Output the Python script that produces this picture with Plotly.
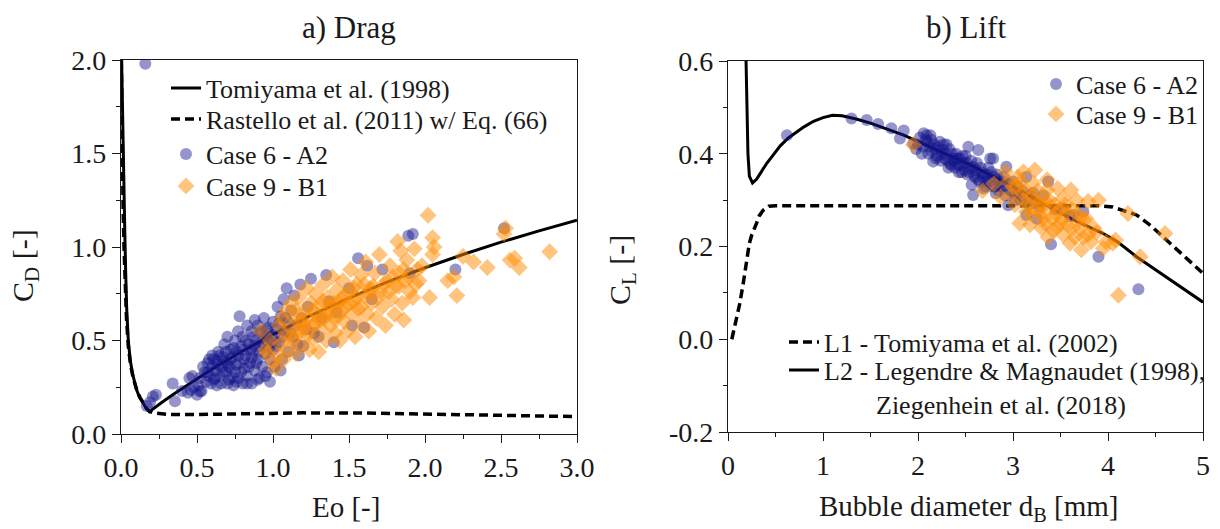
import plotly.graph_objects as go

W, H = 1220, 529
FONT = "Liberation Serif"
TXT = "#1a1a1a"


def fx(p):
    return p / W


def fy(p):
    return 1 - p / H


# ---------------- data: a) Drag ----------------
tomiyama_eo = [0.004, 0.008, 0.013, 0.019, 0.026, 0.031, 0.037, 0.048, 0.06, 0.075, 0.09, 0.103,
               0.12, 0.143, 0.165, 0.186, 0.22, 0.27, 0.35, 0.45, 0.6, 0.8, 1.0, 1.25, 1.5, 1.75,
               2.0, 2.25, 2.5, 2.75, 3.0]
tomiyama_cd = [2.0, 1.8, 1.5, 1.25, 1.04, 0.86, 0.68, 0.50, 0.40, 0.325, 0.27, 0.235,
               0.20, 0.164, 0.138, 0.119, 0.14, 0.17, 0.215, 0.27, 0.348, 0.444, 0.533, 0.635,
               0.727, 0.812, 0.889, 0.96, 1.026, 1.086, 1.143]

rastello_eo = [0.002, 0.005, 0.009, 0.014, 0.02, 0.026, 0.036, 0.048, 0.063, 0.08, 0.1, 0.125,
               0.15, 0.17, 0.19, 0.22, 0.3, 0.5, 0.8, 1.2, 1.6, 2.0, 2.5, 3.0]
rastello_cd = [2.0, 1.75, 1.45, 1.2, 1.0, 0.82, 0.62, 0.47, 0.37, 0.30, 0.245, 0.195,
               0.16, 0.135, 0.12, 0.112, 0.105, 0.104, 0.108, 0.113, 0.112, 0.108, 0.10, 0.093]

case6_drag = [
    (0.16, 1.98), (0.17, 0.15), (0.19, 0.17), (0.21, 0.20), (0.23, 0.21), (0.34, 0.27), (0.355, 0.175),
    (0.40, 0.23), (0.44, 0.22), (0.45, 0.30), (0.46, 0.235), (0.47, 0.31), (0.48, 0.25), (0.50, 0.21),
    (0.51, 0.26), (0.52, 0.227), (0.53, 0.23), (0.55, 0.33), (0.56, 0.28), (0.57, 0.38), (0.58, 0.40),
    (0.58, 0.31), (0.60, 0.36), (0.60, 0.42), (0.61, 0.29), (0.62, 0.34), (0.63, 0.39), (0.64, 0.44),
    (0.65, 0.31), (0.66, 0.36), (0.66, 0.27), (0.67, 0.41), (0.68, 0.48), (0.69, 0.33), (0.70, 0.38),
    (0.70, 0.52), (0.71, 0.29), (0.72, 0.45), (0.72, 0.35), (0.73, 0.41), (0.74, 0.26), (0.75, 0.50),
    (0.75, 0.33), (0.76, 0.44), (0.77, 0.55), (0.77, 0.30), (0.78, 0.38), (0.78, 0.63), (0.79, 0.47),
    (0.80, 0.27), (0.80, 0.52), (0.81, 0.35), (0.82, 0.42), (0.83, 0.58), (0.83, 0.31), (0.84, 0.48),
    (0.85, 0.38), (0.86, 0.55), (0.86, 0.27), (0.87, 0.44), (0.88, 0.61), (0.88, 0.34), (0.89, 0.50),
    (0.90, 0.40), (0.90, 0.58), (0.91, 0.30), (0.92, 0.47), (0.93, 0.54), (0.93, 0.36), (0.94, 0.62),
    (0.95, 0.43), (0.96, 0.50), (0.96, 0.33), (0.97, 0.57), (0.98, 0.40), (0.99, 0.52), (1.00, 0.60),
    (1.00, 0.45), (1.01, 0.36), (1.02, 0.56), (1.03, 0.68), (1.04, 0.49), (1.05, 0.63), (1.06, 0.40),
    (1.07, 0.72), (1.08, 0.55), (1.09, 0.78), (1.10, 0.60), (1.10, 0.44), (1.12, 0.66), (1.13, 0.52),
    (1.14, 0.74), (1.15, 0.58), (1.16, 0.48), (1.17, 0.42), (1.18, 0.80), (1.19, 0.62), (1.20, 0.47),
    (1.22, 0.56), (1.23, 0.68), (1.25, 0.83), (1.27, 0.54), (1.30, 0.52), (1.32, 0.62), (1.35, 0.85),
    (1.37, 0.71), (1.40, 0.49), (1.42, 0.65), (1.50, 0.78), (1.52, 0.58), (1.56, 0.94), (1.60, 0.57),
    (1.62, 0.90), (1.65, 0.72), (1.72, 0.88), (1.89, 1.06), (1.92, 1.07), (1.90, 0.86), (2.20, 0.88),
    (2.52, 1.10),
    (0.52, 0.30), (0.54, 0.36), (0.57, 0.33), (0.59, 0.27), (0.61, 0.40), (0.62, 0.30), (0.64, 0.37),
    (0.65, 0.42), (0.67, 0.33), (0.68, 0.39), (0.69, 0.44), (0.71, 0.36), (0.72, 0.40), (0.73, 0.30),
    (0.74, 0.46), (0.76, 0.37), (0.77, 0.42), (0.79, 0.33), (0.80, 0.45), (0.81, 0.40), (0.82, 0.50),
    (0.84, 0.36), (0.85, 0.45), (0.86, 0.41), (0.87, 0.52), (0.88, 0.47), (0.89, 0.38), (0.91, 0.44),
    (0.92, 0.55), (0.93, 0.49), (0.95, 0.52), (0.96, 0.56), (0.97, 0.46), (0.99, 0.49), (1.01, 0.53),
    (1.02, 0.47), (1.04, 0.59), (1.06, 0.52), (1.08, 0.62), (1.11, 0.54), (0.83, 0.27), (0.90, 0.29),
    (0.76, 0.28), (0.70, 0.27), (0.63, 0.26), (0.95, 0.31), (1.05, 0.34), (0.98, 0.28),
]

case9_drag = [
    (0.92, 0.55), (0.95, 0.45), (0.96, 0.43), (0.98, 0.50), (1.00, 0.38), (1.02, 0.35), (1.03, 0.42),
    (1.04, 0.58), (1.05, 0.48), (1.06, 0.62), (1.07, 0.40), (1.08, 0.53), (1.09, 0.66), (1.10, 0.45),
    (1.11, 0.57), (1.12, 0.70), (1.13, 0.50), (1.14, 0.62), (1.15, 0.43), (1.16, 0.55), (1.17, 0.73),
    (1.18, 0.60), (1.19, 0.48), (1.20, 0.66), (1.21, 0.56), (1.22, 0.78), (1.23, 0.62), (1.24, 0.45),
    (1.25, 0.70), (1.26, 0.58), (1.27, 0.51), (1.28, 0.75), (1.29, 0.64), (1.30, 0.44), (1.31, 0.69),
    (1.32, 0.56), (1.33, 0.80), (1.34, 0.62), (1.35, 0.50), (1.36, 0.73), (1.37, 0.66), (1.38, 0.58),
    (1.39, 0.84), (1.40, 0.70), (1.41, 0.54), (1.42, 0.77), (1.43, 0.63), (1.44, 0.50), (1.45, 0.72),
    (1.46, 0.82), (1.47, 0.60), (1.48, 0.68), (1.49, 0.55), (1.50, 0.76), (1.51, 0.88), (1.52, 0.64),
    (1.53, 0.71), (1.54, 0.52), (1.55, 0.80), (1.56, 0.67), (1.57, 0.59), (1.58, 0.85), (1.60, 0.74),
    (1.61, 0.92), (1.62, 0.64), (1.63, 0.55), (1.64, 0.78), (1.65, 0.70), (1.67, 0.86), (1.68, 0.62),
    (1.70, 0.96), (1.71, 0.76), (1.72, 0.68), (1.74, 0.58), (1.75, 0.82), (1.77, 0.90), (1.78, 0.72),
    (1.80, 0.64), (1.81, 0.79), (1.82, 1.03), (1.83, 0.86), (1.84, 0.98), (1.85, 0.70), (1.86, 0.61),
    (1.87, 0.82), (1.88, 0.93), (1.90, 0.76), (1.92, 0.73), (1.93, 0.99), (1.95, 0.88), (1.96, 0.82),
    (1.98, 0.90), (2.02, 1.17), (2.03, 0.73), (2.05, 1.05), (2.06, 1.00), (2.05, 0.96), (2.15, 0.82),
    (2.19, 0.84), (2.21, 0.74), (2.25, 0.95), (2.32, 0.92), (2.41, 0.89), (2.52, 1.07), (2.53, 1.10),
    (2.56, 0.93), (2.59, 0.94), (2.62, 0.89), (2.82, 0.975),
    (1.12, 0.52), (1.15, 0.66), (1.18, 0.55), (1.20, 0.60), (1.23, 0.53), (1.26, 0.66), (1.28, 0.59),
    (1.31, 0.61), (1.33, 0.71), (1.35, 0.64), (1.38, 0.69), (1.40, 0.62), (1.43, 0.70), (1.45, 0.66),
    (1.47, 0.74), (1.50, 0.70), (1.53, 0.78), (1.55, 0.73), (1.58, 0.68), (1.60, 0.80), (1.63, 0.75),
    (1.66, 0.79), (1.69, 0.73), (1.73, 0.80), (1.76, 0.76), (1.79, 0.84), (1.83, 0.79), (1.86, 0.88),
    (1.89, 0.84), (1.94, 0.80),
]

# ---------------- data: b) Lift ----------------
l1_d = [0.04, 0.08, 0.123, 0.16, 0.184, 0.205, 0.225, 0.25, 0.275, 0.3, 0.328, 0.37, 0.43, 0.5,
        1.0, 2.0, 3.0, 3.9, 4.05, 4.15, 4.3, 4.45, 4.58, 4.74, 4.87, 5.0]
l1_cl = [0.0, 0.035, 0.076, 0.12, 0.149, 0.18, 0.207, 0.225, 0.236, 0.25, 0.266, 0.278, 0.287, 0.288,
         0.288, 0.288, 0.288, 0.288, 0.285, 0.278, 0.268, 0.245, 0.221, 0.192, 0.168, 0.142]

l2_d = [0.19, 0.2, 0.21, 0.225, 0.258, 0.3, 0.348, 0.41, 0.471, 0.55, 0.635, 0.72, 0.80, 0.9, 1.0,
        1.1, 1.2, 1.35, 1.5, 1.85, 2.2, 2.55, 2.9, 3.25, 3.6, 3.95, 4.1, 4.3, 4.5, 4.75, 5.0]
l2_cl = [0.60, 0.50, 0.40, 0.352, 0.337, 0.345, 0.36, 0.38, 0.396, 0.417, 0.434, 0.447, 0.458, 0.47,
         0.478, 0.483, 0.482, 0.475, 0.466, 0.44, 0.408, 0.376, 0.34, 0.30, 0.261, 0.228, 0.21, 0.178,
         0.150, 0.115, 0.08]

case6_lift = [
    (0.62, 0.44), (1.30, 0.476), (1.46, 0.473), (1.58, 0.464), (1.72, 0.455), (1.81, 0.433),
    (1.85, 0.45), (1.95, 0.422), (1.98, 0.41), (2.02, 0.435), (2.04, 0.40), (2.06, 0.444),
    (2.09, 0.44), (2.10, 0.425), (2.12, 0.415), (2.14, 0.43), (2.16, 0.383), (2.18, 0.41),
    (2.20, 0.395), (2.23, 0.426), (2.25, 0.40), (2.26, 0.408), (2.28, 0.39), (2.30, 0.42),
    (2.32, 0.37), (2.34, 0.379), (2.36, 0.40), (2.38, 0.385), (2.40, 0.40), (2.42, 0.375),
    (2.44, 0.39), (2.46, 0.36), (2.48, 0.38), (2.50, 0.395), (2.52, 0.355), (2.53, 0.415),
    (2.55, 0.37), (2.565, 0.333), (2.58, 0.372), (2.58, 0.311), (2.60, 0.35), (2.62, 0.38),
    (2.635, 0.408), (2.65, 0.34), (2.67, 0.36), (2.69, 0.325), (2.705, 0.354), (2.72, 0.34),
    (2.74, 0.37), (2.76, 0.39), (2.78, 0.33), (2.79, 0.39), (2.80, 0.35), (2.82, 0.315),
    (2.84, 0.345), (2.86, 0.33), (2.88, 0.329), (2.90, 0.35), (2.93, 0.372), (2.95, 0.289),
    (2.97, 0.32), (3.00, 0.34), (3.03, 0.31), (3.05, 0.33), (3.08, 0.30), (3.10, 0.32),
    (3.14, 0.35), (3.14, 0.268), (3.17, 0.29), (3.21, 0.316), (3.25, 0.26), (3.28, 0.285),
    (3.32, 0.31), (3.37, 0.34), (3.40, 0.205), (3.45, 0.28), (3.53, 0.282), (3.60, 0.265),
    (3.635, 0.268), (3.74, 0.275), (3.90, 0.178), (4.32, 0.108),
    (2.00, 0.42), (2.05, 0.415), (2.08, 0.43), (2.11, 0.40), (2.13, 0.44), (2.15, 0.405),
    (2.17, 0.42), (2.19, 0.39), (2.21, 0.415), (2.24, 0.385), (2.27, 0.42), (2.29, 0.40),
    (2.31, 0.385), (2.33, 0.41), (2.35, 0.375), (2.37, 0.39), (2.39, 0.37), (2.41, 0.39),
    (2.43, 0.36), (2.45, 0.375), (2.47, 0.395), (2.49, 0.365), (2.51, 0.38), (2.54, 0.36),
    (2.56, 0.385), (2.59, 0.355), (2.61, 0.365), (2.63, 0.345), (2.66, 0.37), (2.68, 0.35),
    (2.71, 0.33), (2.73, 0.355), (2.75, 0.34), (2.77, 0.36), (2.81, 0.33), (2.83, 0.355),
    (2.85, 0.32), (2.89, 0.34), (2.92, 0.31), (2.96, 0.335), (2.99, 0.32), (3.02, 0.30),
    (3.06, 0.315), (3.12, 0.30), (3.18, 0.31), (3.23, 0.295),
]

case9_lift = [
    (1.95, 0.42), (2.68, 0.32), (2.80, 0.335), (2.87, 0.307), (2.92, 0.361), (2.95, 0.34),
    (3.00, 0.329), (3.02, 0.29), (3.05, 0.35), (3.07, 0.25), (3.10, 0.315), (3.11, 0.361),
    (3.11, 0.30), (3.14, 0.275), (3.18, 0.247), (3.20, 0.31), (3.21, 0.337), (3.23, 0.365),
    (3.25, 0.279), (3.28, 0.295), (3.30, 0.24), (3.32, 0.26), (3.33, 0.30), (3.36, 0.344),
    (3.36, 0.322), (3.37, 0.22), (3.40, 0.285), (3.42, 0.235), (3.45, 0.27), (3.47, 0.325),
    (3.50, 0.25), (3.53, 0.304), (3.53, 0.225), (3.56, 0.275), (3.60, 0.207), (3.61, 0.322),
    (3.63, 0.24), (3.67, 0.30), (3.70, 0.26), (3.72, 0.193), (3.74, 0.22), (3.75, 0.257),
    (3.79, 0.297), (3.79, 0.225), (3.85, 0.24), (3.90, 0.30), (3.95, 0.196), (4.05, 0.207),
    (4.08, 0.214), (4.11, 0.095), (4.21, 0.271), (4.34, 0.178), (4.60, 0.228),
    (2.98, 0.31), (3.04, 0.33), (3.08, 0.34), (3.13, 0.32), (3.16, 0.29), (3.19, 0.27),
    (3.22, 0.30), (3.26, 0.32), (3.29, 0.27), (3.31, 0.285), (3.34, 0.25), (3.38, 0.30),
    (3.41, 0.26), (3.44, 0.29), (3.46, 0.24), (3.49, 0.28), (3.52, 0.26), (3.55, 0.29),
    (3.58, 0.245), (3.62, 0.28), (3.65, 0.22), (3.68, 0.27), (3.71, 0.24), (3.77, 0.26),
    (3.82, 0.21), (3.88, 0.23), (3.98, 0.21),
]

BLUE = "rgba(20,20,140,0.45)"
ORANGE = "rgba(255,140,0,0.5)"

fig = go.Figure()

# ---- a) Drag traces ----
fig.add_trace(go.Scatter(x=tomiyama_eo, y=tomiyama_cd, mode="lines", name="Tomiyama et al. (1998)",
                         line=dict(color="black", width=3), xaxis="x", yaxis="y", legend="legend"))
fig.add_trace(go.Scatter(x=rastello_eo, y=rastello_cd, mode="lines",
                         name="Rastello et al. (2011) w/ Eq. (66)",
                         line=dict(color="black", width=3.5, dash="9px,5px"), xaxis="x", yaxis="y",
                         legend="legend2"))
fig.add_trace(go.Scatter(x=[p[0] for p in case6_drag], y=[p[1] for p in case6_drag], mode="markers",
                         name="Case 6 - A2", marker=dict(symbol="circle", size=12, color=BLUE,
                                                         line=dict(width=0)),
                         xaxis="x", yaxis="y", legend="legend3"))
fig.add_trace(go.Scatter(x=[p[0] for p in case9_drag], y=[p[1] for p in case9_drag], mode="markers",
                         name="Case 9 - B1", marker=dict(symbol="diamond", size=13, color=ORANGE,
                                                         line=dict(width=0)),
                         xaxis="x", yaxis="y", legend="legend4"))

# ---- b) Lift traces ----
fig.add_trace(go.Scatter(x=l1_d, y=l1_cl, mode="lines", name="L1 - Tomiyama et al. (2002)",
                         line=dict(color="black", width=3.5, dash="9px,5px"), xaxis="x2", yaxis="y2",
                         legend="legend7"))
fig.add_trace(go.Scatter(x=l2_d, y=l2_cl, mode="lines",
                         name="L2 - Legendre &amp; Magnaudet (1998),<br>" + "\u00a0" * 8 +
                              "Ziegenhein et al. (2018)",
                         line=dict(color="black", width=3), xaxis="x2", yaxis="y2", legend="legend8"))
fig.add_trace(go.Scatter(x=[p[0] for p in case6_lift], y=[p[1] for p in case6_lift], mode="markers",
                         name="Case 6 - A2", marker=dict(symbol="circle", size=12, color=BLUE,
                                                         line=dict(width=0)),
                         xaxis="x2", yaxis="y2", legend="legend5"))
fig.add_trace(go.Scatter(x=[p[0] for p in case9_lift], y=[p[1] for p in case9_lift], mode="markers",
                         name="Case 9 - B1", marker=dict(symbol="diamond", size=13, color=ORANGE,
                                                         line=dict(width=0)),
                         xaxis="x2", yaxis="y2", legend="legend6"))


def axis_style(**kw):
    base = dict(showline=True, linecolor="#1a1a1a", linewidth=1.3, mirror=True, showgrid=False,
                zeroline=False, ticks="outside", ticklen=8, tickwidth=1.3, tickcolor="#1a1a1a",
                tickfont=dict(family=FONT, size=28, color=TXT), fixedrange=True)
    base.update(kw)
    return base


def leg(xp, yp, **kw):
    d = dict(x=fx(xp), y=fy(yp), xanchor="left", yanchor="middle", bgcolor="rgba(0,0,0,0)",
             borderwidth=0, font=dict(family=FONT, size=26, color=TXT), tracegroupgap=0)
    d.update(kw)
    return d


fig.update_layout(
    width=W, height=H, margin=dict(l=0, r=0, t=0, b=0, autoexpand=False),
    paper_bgcolor="white", plot_bgcolor="white", showlegend=True,
    xaxis=axis_style(domain=[fx(121), fx(577)], range=[0, 3], anchor="y", dtick=0.5, tick0=0,
                     tickformat=".1f",
                     minor=dict(dtick=0.25, ticks="outside", ticklen=4, tickcolor="#1a1a1a")),
    yaxis=axis_style(domain=[fy(434), fy(60)], range=[0, 2], anchor="x", dtick=0.5, tick0=0,
                     tickformat=".1f",
                     minor=dict(dtick=0.25, ticks="outside", ticklen=4, tickcolor="#1a1a1a")),
    xaxis2=axis_style(domain=[fx(728), fx(1203)], range=[0, 5], anchor="y2", dtick=1, tick0=0,
                      minor=dict(dtick=0.5, ticks="outside", ticklen=4, tickcolor="#1a1a1a")),
    yaxis2=axis_style(domain=[fy(432), fy(61)], range=[-0.2, 0.6], anchor="x2",
                      tickvals=[-0.2, 0.0, 0.2, 0.4, 0.6],
                      ticktext=["-0.2", "0.0", "0.2", "0.4", "0.6"],
                      minor=dict(dtick=0.1, ticks="outside", ticklen=4, tickcolor="#1a1a1a")),
    legend=leg(166, 88),
    legend2=leg(166, 119),
    legend3=leg(166, 154),
    legend4=leg(166, 186),
    legend5=leg(1036, 84),
    legend6=leg(1036, 114),
    legend7=leg(784, 342),
    legend8=leg(784, 387, valign="top"),
)

annots = [
    ("a) Drag", 349, 27, 31, 0),
    ("b) Lift", 966, 28, 31, 0),
    ("Eo [-]", 346, 507, 29, 0),
    ("Bubble diameter d<sub>B</sub> [mm]", 968, 508, 29, 0),
    ("C<sub>D</sub> [-]", 25, 265, 30, -90),
    ("C<sub>L</sub> [-]", 622, 270, 30, -90),
]
for text, ax_, ay_, size, rot in annots:
    fig.add_annotation(text=text, x=fx(ax_), y=fy(ay_), xref="paper", yref="paper",
                       xanchor="center", yanchor="middle", showarrow=False, textangle=rot,
                       font=dict(family=FONT, size=size, color=TXT))

fig.write_html("out.html")
